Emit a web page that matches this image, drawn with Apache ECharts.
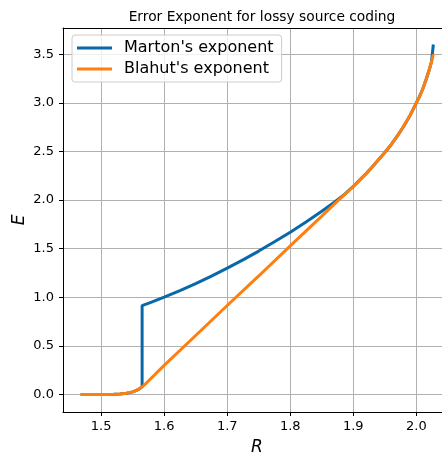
<!DOCTYPE html>
<html><head><meta charset="utf-8">
<script src="https://cdn.jsdelivr.net/npm/echarts@6/dist/echarts.min.js"></script>
<style>html,body{margin:0;padding:0;background:#fff}#c{width:442px;height:453px}</style>
</head><body><div id="c"></div>
<script>
const titleText = "Error Exponent for lossy source coding";
const seriesNames = ["Marton's exponent", "Blahut's exponent"];
const xTicks = [1.5, 1.6, 1.7, 1.8, 1.9, 2.0];
const yTicks = [0, 0.5, 1.0, 1.5, 2.0, 2.5, 3.0, 3.5];

const martonR = [1.4675, 1.48, 1.50, 1.51, 1.52, 1.53, 1.54, 1.545, 1.55, 1.555, 1.56, 1.565, 1.565, 1.58, 1.60, 1.625, 1.65, 1.675, 1.70, 1.725, 1.75, 1.775, 1.80, 1.825, 1.85, 1.87, 1.885, 1.895, 1.90, 1.91, 1.92, 1.93, 1.94, 1.95, 1.96, 1.97, 1.98, 1.99, 2.00, 2.005, 2.01, 2.015, 2.02, 2.024, 2.027];
const martonE = [0, 0, 0, 0.001, 0.003, 0.007, 0.014, 0.02, 0.028, 0.04, 0.056, 0.08, 0.915, 0.951, 1.002, 1.070, 1.142, 1.219, 1.300, 1.386, 1.476, 1.571, 1.670, 1.774, 1.885, 1.978, 2.052, 2.112, 2.14, 2.205, 2.27, 2.34, 2.415, 2.49, 2.57, 2.66, 2.76, 2.87, 3.00, 3.065, 3.14, 3.23, 3.33, 3.42, 3.60];

const blahutR = [1.4675, 1.48, 1.50, 1.51, 1.52, 1.53, 1.54, 1.545, 1.55, 1.555, 1.56, 1.565, 1.57, 1.575, 1.58, 1.585, 1.59, 1.60, 1.65, 1.70, 1.75, 1.80, 1.85, 1.88, 1.89, 1.90, 1.91, 1.92, 1.93, 1.94, 1.95, 1.96, 1.97, 1.98, 1.99, 2.00, 2.005, 2.01, 2.015, 2.02, 2.024, 2.027];
const blahutE = [0, 0, 0, 0.001, 0.003, 0.007, 0.014, 0.02, 0.028, 0.04, 0.056, 0.08, 0.108, 0.14, 0.172, 0.204, 0.236, 0.30, 0.608, 0.916, 1.22, 1.53, 1.835, 2.02, 2.08, 2.14, 2.205, 2.27, 2.34, 2.415, 2.49, 2.57, 2.66, 2.76, 2.87, 3.00, 3.065, 3.14, 3.23, 3.33, 3.42, 3.50];

const FONT = 'DejaVu Sans';
const chart = echarts.init(document.getElementById('c'), null, {renderer: 'canvas'});
chart.setOption({
  animation: false,
  backgroundColor: '#ffffff',
  title: {
    text: titleText, left: 257, top: 5, textAlign: 'center',
    textStyle: {fontFamily: FONT, fontSize: 13.8, fontWeight: 'normal', color: '#000'}
  },
  legend: {
    left: 72, top: 35, orient: 'vertical', icon: 'rect',
    itemWidth: 35, itemHeight: 3, itemGap: 5, padding: [5, 8, 5, 5],
    backgroundColor: 'rgba(255,255,255,0.8)', borderColor: '#cccccc', borderWidth: 1, borderRadius: 3,
    textStyle: {fontFamily: FONT, fontSize: 16, color: '#000', padding: [0, 0, 0, 7]},
    data: seriesNames
  },
  grid: {left: 63, top: 28, width: 388, height: 384, show: false, containLabel: false, outerBoundsMode: 'none'},
  xAxis: [{
    type: 'value', min: 1.4395, max: 2.055,
    name: 'R', nameLocation: 'middle', nameGap: 27, nameMoveOverlap: false,
    nameTextStyle: {fontFamily: FONT, fontSize: 17, fontStyle: 'italic', color: '#000'},
    axisLine: {show: true, onZero: false, lineStyle: {color: '#000', width: 1}},
    axisTick: {show: true, length: 4, customValues: xTicks, lineStyle: {color: '#000'}},
    axisLabel: {customValues: xTicks, margin: 8, fontFamily: FONT, fontSize: 13, color: '#000', formatter: v => v.toFixed(1)},
    splitLine: {show: true, lineStyle: {color: '#b0b0b0', width: 1}}
  }, {
    type: 'value', position: 'top', min: 1.4395, max: 2.055,
    axisLine: {show: true, onZero: false, lineStyle: {color: '#000', width: 1}},
    axisTick: {show: false}, axisLabel: {show: false}, splitLine: {show: false}
  }],
  yAxis: {
    type: 'value', min: -0.179, max: 3.77,
    name: 'E', nameLocation: 'middle', nameGap: 35, nameRotate: 90, nameMoveOverlap: false,
    nameTextStyle: {fontFamily: FONT, fontSize: 17, fontStyle: 'italic', color: '#000'},
    axisLine: {show: true, onZero: false, lineStyle: {color: '#000', width: 1}},
    axisTick: {show: true, length: 4, customValues: yTicks, lineStyle: {color: '#000'}},
    axisLabel: {customValues: yTicks, margin: 9, fontFamily: FONT, fontSize: 13, color: '#000', formatter: v => v.toFixed(1)},
    splitLine: {show: true, lineStyle: {color: '#b0b0b0', width: 1}}
  },
  series: [
    {name: seriesNames[0], type: 'line', showSymbol: false, symbol: 'none', color: '#0868a8',
     lineStyle: {width: 3, color: '#0868a8'}, data: martonR.map((r, i) => [r, martonE[i]])},
    {name: seriesNames[1], type: 'line', showSymbol: false, symbol: 'none', color: '#ff7f0e',
     lineStyle: {width: 3, color: '#ff7f0e'}, data: blahutR.map((r, i) => [r, blahutE[i]])}
  ]
});
</script>
</body></html>
